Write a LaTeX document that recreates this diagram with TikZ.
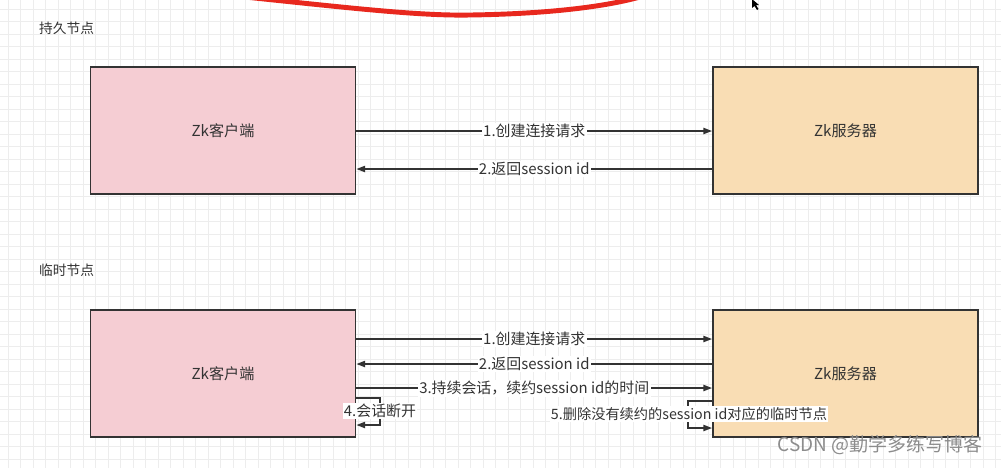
\documentclass[tikz,border=0pt]{standalone}
\usepackage{fontspec}
\setmainfont{Noto Sans CJK SC}
\usepackage{tikz}
\usetikzlibrary{arrows.meta}
\definecolor{gridc}{HTML}{EDEDED}
\definecolor{inkc}{HTML}{333333}
\definecolor{clientc}{HTML}{F5CDD3}
\definecolor{serverc}{HTML}{F9DDB4}
\definecolor{penc}{HTML}{E8281E}
\tikzset{
  gridline/.style={gridc,line width=0.4pt},
  box/.style={draw=inkc,line width=1.1pt,minimum width=5.3cm,minimum height=2.54cm,
    text=inkc,font=\fontsize{8.6}{10}\selectfont},
  flow/.style={inkc,line width=0.85pt,-{Triangle[length=5pt,width=3.6pt]}},
  lbl/.style={fill=white,text=inkc,inner sep=0.8pt,font=\fontsize{8.5}{10}\selectfont},
  head/.style={text=inkc,font=\fontsize{7.8}{9}\selectfont,anchor=west}
}
\begin{document}
\begin{tikzpicture}[x=0.02cm,y=-0.02cm]
    \useasboundingbox (0,0) rectangle (1001,468);
    \fill[white] (0,0) rectangle (1001,468);
    % grid
    \foreach \i in {0,...,79}
      \draw[gridline] (8+\i*12.5,0) -- (8+\i*12.5,468);
    \foreach \j in {0,...,37}
      \draw[gridline] (0,9+\j*12.5) -- (1001,9+\j*12.5);
    % pen stroke and cursor
    \draw[penc,line width=2.8pt,line cap=round] (245,-3) .. controls (350,8) and (420,16) .. (470,15) .. controls (540,14) and (600,8) .. (640,-3);
    \fill[black] (752,-1) -- (752,8) -- (754.5,6) -- (757,10) -- (758.5,9) -- (756,5) -- (759,5) -- cycle;

    \node[head] (t1) at (33,28) {持久节点};
    \node[head] (t2) at (33,270) {临时节点};

    % persistent
    \node[box,fill=clientc] (cli1) at (223,130.5) {Zk客户端};
    \node[box,fill=serverc] (srv1) at (845.5,130.5) {Zk服务器};
    \draw[flow] (cli1.east |- 0,131) -- node[lbl] (a1) {1.创建连接请求} (srv1.west |- 0,131);
    \draw[flow] (srv1.west |- 0,169) -- node[lbl] (a2) {2.返回session id} (cli1.east |- 0,169);

    % ephemeral
    \node[box,fill=clientc] (cli2) at (223,373.5) {Zk客户端};
    \node[box,fill=serverc] (srv2) at (845.5,373.5) {Zk服务器};
    \draw[flow] (cli2.east |- 0,339) -- node[lbl] (b1) {1.创建连接请求} (srv2.west |- 0,339);
    \draw[flow] (srv2.west |- 0,364) -- node[lbl] (b2) {2.返回session id} (cli2.east |- 0,364);
    \draw[flow] (cli2.east |- 0,388) -- node[lbl] (b3) {3.持续会话，续约session id的时间} (srv2.west |- 0,388);
    \coordinate (k1) at (380,398);
    \coordinate (k2) at (380,425);
    \draw[flow] (cli2.east |- k1) -- (k1) -- (k2) -- (cli2.east |- k2);
    \node[lbl] (b4) at (380,411) {4.会话断开};
    \coordinate (m1) at (688,401);
    \coordinate (m2) at (688,428);
    \draw[flow] (srv2.west |- m1) -- (m1) -- (m2) -- (srv2.west |- m2);
    \node[lbl,font=\fontsize{8.1}{10}\selectfont] (b5) at (689,414) {5.删除没有续约的session id对应的临时节点};

    \node[text=gray!90,font=\fontsize{10.8}{12}\selectfont] (wm) at (880,445) {CSDN @勤学多练写博客};
\end{tikzpicture}
\end{document}
